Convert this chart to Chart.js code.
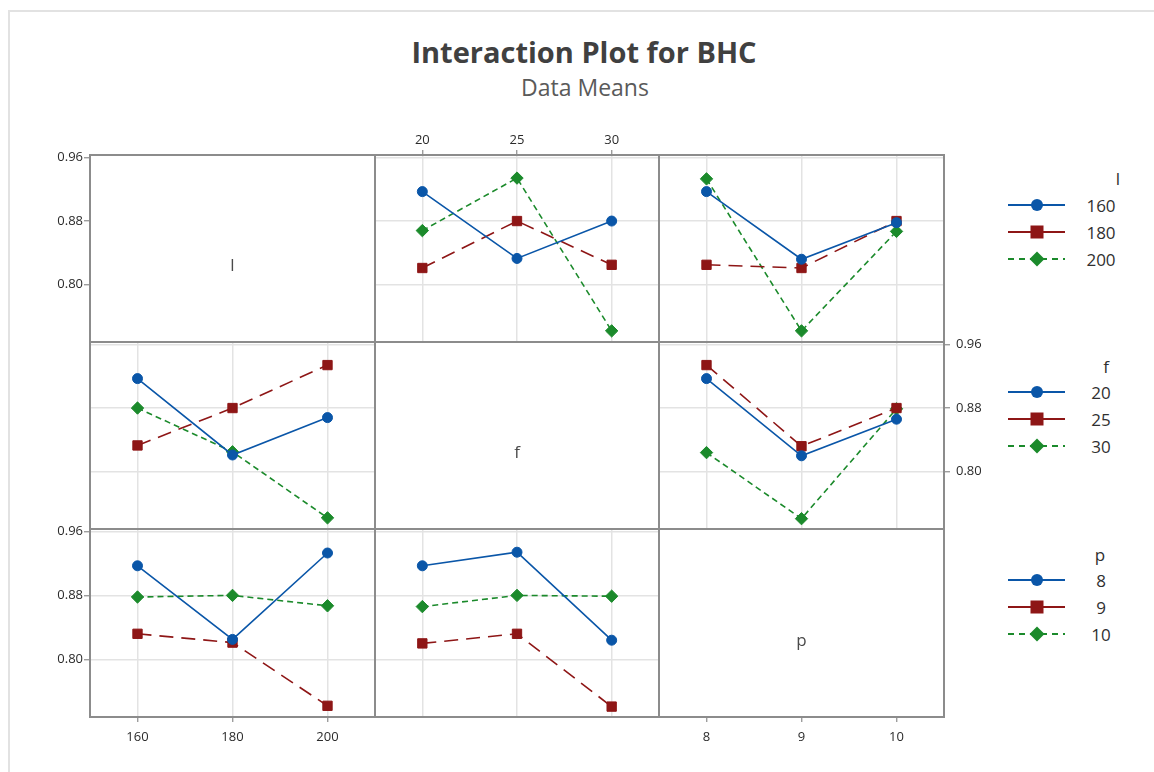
<!DOCTYPE html>
<html><head><meta charset="utf-8">
<script src="https://cdn.jsdelivr.net/npm/chart.js@4.4.0/dist/chart.umd.min.js"></script>
<style>
html,body{margin:0;padding:0;background:#fff;width:1154px;height:772px;overflow:hidden;font-family:"Open Sans",sans-serif;}
#frame{position:absolute;left:8px;top:10px;width:1170px;height:790px;border-left:2px solid #e2e2e2;border-top:2px solid #e2e2e2;}
.t{position:absolute;white-space:nowrap;transform:translate(-50%,-50%);color:#303030;}
canvas{position:absolute;}
svg{position:absolute;}
</style></head><body>
<div id="frame"></div>
<div class="t" style="left:584px;top:51px;font-size:29px;font-weight:700;color:#404040">Interaction Plot for BHC</div>
<div class="t" style="left:585px;top:87px;font-size:23px;color:#5a5a5a">Data Means</div>
<div id="legend"></div>
<script>
// ---------- data ----------
const lLevels = ['160', '180', '200'];
const fLevels = ['20', '25', '30'];
const pLevels = ['8', '9', '10'];
const yTickValues = [0.80, 0.88, 0.96];
const yTickLabels = ['0.80', '0.88', '0.96'];

// mean BHC for each l level across f levels (20, 25, 30)
const l160_by_f = [0.917, 0.833, 0.880];
const l180_by_f = [0.821, 0.880, 0.825];
const l200_by_f = [0.868, 0.934, 0.742];
// mean BHC for each l level across p levels (8, 9, 10)
const l160_by_p = [0.917, 0.832, 0.878];
const l180_by_p = [0.825, 0.821, 0.880];
const l200_by_p = [0.933, 0.742, 0.867];
// mean BHC for each f level across p levels (8, 9, 10)
const f20_by_p = [0.917, 0.820, 0.866];
const f25_by_p = [0.934, 0.832, 0.880];
const f30_by_p = [0.824, 0.741, 0.879];

// ---------- style ----------
const COLORS = ['#0a56a8', '#8e1616', '#1b8a2b'];
const DASH = [[], [14, 8], [6, 4]];
const PSTYLE = ['circle', 'rect', 'rectRot'];
const PRAD = [5, 6.6, 6.2];
const PAD = 40;
const colX = [90, 375, 659], colW = [285, 284, 285];
const rowY = [155, 342, 529], rowH = [187, 187, 188];
const YMIN = 0.728, YMAX = 0.963;

function transpose(rows) { return rows[0].map((_, j) => rows.map(r => r[j])); }

function ds(label, data, i) {
  return {
    label, data, borderColor: COLORS[i], backgroundColor: COLORS[i], borderWidth: 1.6,
    borderDash: DASH[i], pointStyle: PSTYLE[i], pointRadius: PRAD[i], pointBorderWidth: 1,
    pointBorderColor: COLORS[i], pointBackgroundColor: COLORS[i], tension: 0, clip: false
  };
}

function framePlugin(text) {
  return {
    id: 'frame',
    afterDraw(chart) {
      const a = chart.chartArea, ctx = chart.ctx;
      ctx.save();
      ctx.strokeStyle = '#8c8c8c';
      ctx.lineWidth = 2;
      ctx.strokeRect(a.left, a.top, a.right - a.left, a.bottom - a.top);
      if (text) {
        ctx.fillStyle = '#4a4a4a';
        ctx.font = '17px "Open Sans"';
        ctx.textAlign = 'center';
        ctx.textBaseline = 'middle';
        ctx.fillText(text, (a.left + a.right) / 2, (a.top + a.bottom) / 2 + 18);
      }
      ctx.restore();
    }
  };
}

function panel(r, c, o) {
  const cv = document.createElement('canvas');
  const W = colW[c] + 2 * PAD, H = rowH[r] + 2 * PAD;
  cv.width = W; cv.height = H;
  cv.style.width = W + 'px'; cv.style.height = H + 'px';
  cv.style.left = (colX[c] - PAD) + 'px'; cv.style.top = (rowY[r] - PAD) + 'px';
  document.body.appendChild(cv);
  const xPos = o.xPos || 'bottom', yPos = o.yPos || 'left';
  const gridCol = o.grid ? '#e3e3e3' : 'rgba(0,0,0,0)';
  const tickFont = { family: 'Open Sans', size: 13 };
  new Chart(cv, {
    type: 'line',
    data: { labels: o.labels, datasets: o.datasets || [] },
    options: {
      responsive: false, animation: false, devicePixelRatio: 1,
      layout: { padding: {
        top: xPos === 'top' ? 0 : PAD, bottom: xPos === 'bottom' ? 0 : PAD,
        left: yPos === 'left' ? 0 : PAD, right: yPos === 'right' ? 0 : PAD } },
      plugins: { legend: { display: false }, title: { display: false }, tooltip: { enabled: false } },
      events: [],
      scales: {
        x: {
          type: 'category', position: xPos, offset: true,
          grid: { display: true, offset: false, color: gridCol, lineWidth: 1.5,
                  drawTicks: !!o.xTicks, tickLength: 5, tickColor: '#8c8c8c', tickWidth: 1.2 },
          border: { display: false },
          ticks: { display: !!o.xTicks, color: '#2b2b2b', font: tickFont, padding: xPos === 'top' ? 2 : 7,
                   maxRotation: 0, autoSkip: false },
          afterFit: s => { s.height = PAD; }
        },
        y: {
          type: 'linear', position: yPos, min: YMIN, max: YMAX,
          afterBuildTicks: s => { s.ticks = yTickValues.map(v => ({ value: v })); },
          grid: { display: true, color: gridCol, lineWidth: 1.5,
                  drawTicks: !!o.yTicks, tickLength: 6, tickColor: '#8c8c8c', tickWidth: 1.2 },
          border: { display: false },
          ticks: { display: !!o.yTicks, color: '#2b2b2b', font: tickFont, padding: yPos === 'right' ? 6 : 1,
                   callback: (v, i) => yTickLabels[i] },
          afterFit: s => { s.width = PAD; }
        }
      }
    },
    plugins: [framePlugin(o.diag)]
  });
}

// row 1: lines = l levels
panel(0, 0, { labels: lLevels, diag: 'l', yTicks: true });
panel(0, 1, { labels: fLevels, grid: true, xTicks: true, xPos: 'top',
  datasets: [ds('160', l160_by_f, 0), ds('180', l180_by_f, 1), ds('200', l200_by_f, 2)] });
panel(0, 2, { labels: pLevels, grid: true,
  datasets: [ds('160', l160_by_p, 0), ds('180', l180_by_p, 1), ds('200', l200_by_p, 2)] });

// row 2: lines = f levels
const fByL = transpose([l160_by_f, l180_by_f, l200_by_f]);
panel(1, 0, { labels: lLevels, grid: true,
  datasets: [ds('20', fByL[0], 0), ds('25', fByL[1], 1), ds('30', fByL[2], 2)] });
panel(1, 1, { labels: fLevels, diag: 'f' });
panel(1, 2, { labels: pLevels, grid: true, yTicks: true, yPos: 'right',
  datasets: [ds('20', f20_by_p, 0), ds('25', f25_by_p, 1), ds('30', f30_by_p, 2)] });

// row 3: lines = p levels
const pByL = transpose([l160_by_p, l180_by_p, l200_by_p]);
const pByF = transpose([f20_by_p, f25_by_p, f30_by_p]);
panel(2, 0, { labels: lLevels, grid: true, xTicks: true, yTicks: true,
  datasets: [ds('8', pByL[0], 0), ds('9', pByL[1], 1), ds('10', pByL[2], 2)] });
panel(2, 1, { labels: fLevels, grid: true,
  datasets: [ds('8', pByF[0], 0), ds('9', pByF[1], 1), ds('10', pByF[2], 2)] });
panel(2, 2, { labels: pLevels, diag: 'p', xTicks: true });

// ---------- legend ----------
const legendGroups = [
  { title: 'l', tx: 1118, ty: 178, levels: lLevels, y0: 205 },
  { title: 'f', tx: 1106, ty: 366, levels: fLevels, y0: 392 },
  { title: 'p', tx: 1100, ty: 554, levels: pLevels, y0: 580 }
];
const lg = document.getElementById('legend');
legendGroups.forEach(g => {
  let html = `<div class="t" style="left:${g.tx}px;top:${g.ty}px;font-size:17px;color:#303030">${g.title}</div>`;
  g.levels.forEach((lv, i) => {
    const y = g.y0 + i * 26.8;
    const c = COLORS[i];
    let mark;
    if (i === 0) mark = `<circle cx="30" cy="10" r="6" fill="${c}"/>`;
    else if (i === 1) mark = `<rect x="23.5" y="3.5" width="13" height="13" fill="${c}"/>`;
    else mark = `<polygon points="30,2.5 37.5,10 30,17.5 22.5,10" fill="${c}"/>`;
    const dash = i === 2 ? 'stroke-dasharray="6 5"' : '';
    html += `<svg width="60" height="20" style="left:1007px;top:${y - 10}px">` +
      `<line x1="1" y1="10" x2="58" y2="10" stroke="${c}" stroke-width="1.8" ${dash}/>${mark}</svg>`;
    html += `<div class="t" style="left:1101px;top:${y}px;font-size:17px;color:#303030">${lv}</div>`;
  });
  lg.insertAdjacentHTML('beforeend', html);
});
</script>
</body></html>
